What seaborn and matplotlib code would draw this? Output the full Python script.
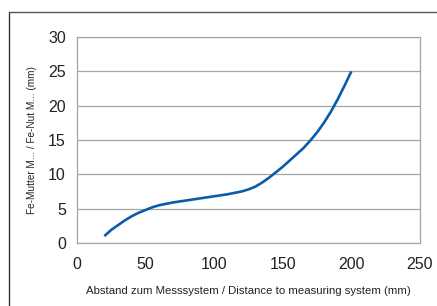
import matplotlib

matplotlib.use("Agg")
import matplotlib.pyplot as plt
import pandas as pd
import seaborn as sns
from matplotlib.lines import Line2D

# distance (mm) vs. reading for Fe nut
distance = [20, 25, 30, 35, 40, 45, 50, 55, 60, 70, 80, 90, 100, 110, 120, 125,
            130, 135, 140, 145, 150, 155, 160, 165, 170, 175, 180, 185, 190,
            195, 200]
fe_nut = [1.0, 1.9, 2.6, 3.3, 3.9, 4.4, 4.8, 5.2, 5.5, 5.9, 6.2, 6.5, 6.8, 7.1,
          7.5, 7.8, 8.2, 8.8, 9.5, 10.3, 11.1, 12.0, 12.9, 13.8, 14.9, 16.1,
          17.5, 19.1, 20.9, 22.9, 25.0]

x_ticks = [0, 50, 100, 150, 200, 250]
y_ticks = [0, 5, 10, 15, 20, 25, 30]

df = pd.DataFrame({"distance": distance, "value": fe_nut})

sns.set_style("white")
plt.rcParams["font.family"] = ["Liberation Sans", "DejaVu Sans"]

grey = "#a6a6a6"
fig = plt.figure(figsize=(4.37, 3.06), dpi=100)
ax = fig.add_axes([0.176, 0.206, 0.785, 0.673])

sns.lineplot(data=df, x="distance", y="value", ax=ax, color="#0a5ca8",
             linewidth=1.9, solid_capstyle="butt")

ax.set_xlim(0, 250)
ax.set_ylim(0, 30)
ax.set_xticks(x_ticks)
ax.set_yticks(y_ticks)
ax.yaxis.grid(True, color=grey, linewidth=0.9)
ax.xaxis.grid(False)
for s in ax.spines.values():
    s.set_color(grey)
    s.set_linewidth(0.9)
ax.tick_params(axis="both", direction="out", length=4, width=0.9, color=grey,
               labelsize=11.5, labelcolor="#222222", pad=4)
ax.tick_params(axis="x", pad=6)
ax.set_xlabel("Abstand zum Messsystem / Distance to measuring system (mm)",
              fontsize=8.2, color="#222222", labelpad=10)
ax.set_ylabel("Fe-Mutter M... / Fe-Nut M... (mm)", fontsize=7.2,
              color="#222222", labelpad=8)

# outer frame (left and top edges only visible)
fig.add_artist(Line2D([9 / 437, 9 / 437], [0, 1 - 12 / 306], color="#333333",
                      linewidth=1.0, transform=fig.transFigure))
fig.add_artist(Line2D([9 / 437, 1], [1 - 12 / 306, 1 - 12 / 306],
                      color="#555555", linewidth=1.0, transform=fig.transFigure))

fig.savefig("out.png", dpi=100)
